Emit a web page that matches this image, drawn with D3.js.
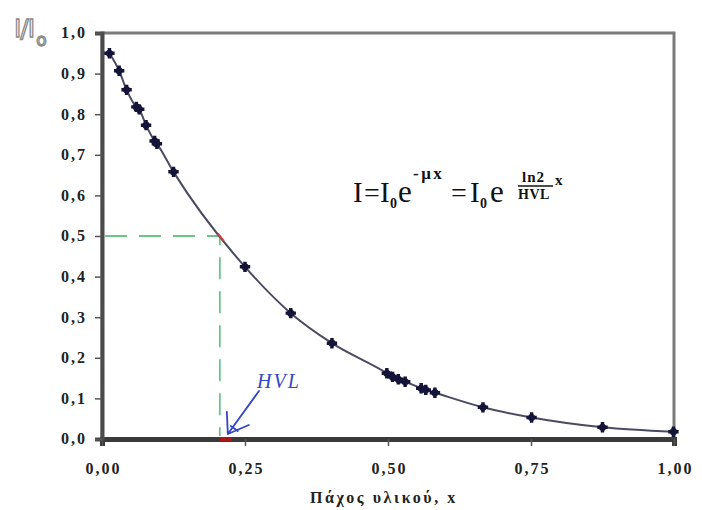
<!DOCTYPE html>
<html>
<head>
<meta charset="utf-8">
<script src="https://cdn.jsdelivr.net/npm/d3@7"></script>
<style>
  body { margin: 0; background: #fff; }
  svg { display: block; }
  .tick text { font-family: "Liberation Serif", "DejaVu Serif", serif; font-weight: bold; font-size: 16px; fill: #222; letter-spacing: 2px; }
</style>
</head>
<body>
<svg id="chart" width="702" height="510"></svg>
<script>
// thickness (x) and relative intensity I/I0
var thickness = [0.013, 0.030, 0.043, 0.060, 0.065, 0.077, 0.092, 0.096, 0.125,
                 0.250, 0.330, 0.402, 0.498, 0.508, 0.518, 0.530, 0.558, 0.566,
                 0.582, 0.666, 0.751, 0.875, 0.999];
var intensity = [0.950, 0.907, 0.860, 0.818, 0.812, 0.773, 0.734, 0.727, 0.658,
                 0.424, 0.310, 0.236, 0.162, 0.153, 0.147, 0.141, 0.125, 0.121,
                 0.114, 0.078, 0.053, 0.029, 0.018];
var xTicks = [0, 0.25, 0.5, 0.75, 1];
var yTicks = [0, 0.1, 0.2, 0.3, 0.4, 0.5, 0.6, 0.7, 0.8, 0.9, 1.0];
var hvl = 0.206;
var halfLevel = 0.5;

var svg = d3.select('#chart');
var margin = { left: 102, right: 28, top: 33, bottom: 71 };
var width = 702 - margin.left - margin.right,
    height = 510 - margin.top - margin.bottom;

var x = d3.scaleLinear().domain([0, 1]).range([margin.left, margin.left + width]);
var y = d3.scaleLinear().domain([0, 1]).range([margin.top + height, margin.top]);
var comma = function(fmt) {
    return function(d) { return d3.format(fmt)(d).replace('.', ','); };
};

// frame (top / right)
svg.append('rect')
    .attr('x', x(0)).attr('y', y(1))
    .attr('width', x(1) - x(0)).attr('height', y(0) - y(1))
    .attr('fill', 'none')
    .attr('stroke', '#7a7a7a')
    .attr('stroke-width', 3);

// axes
var gx = svg.append('g')
    .attr('transform', 'translate(0,' + y(0) + ')')
    .call(d3.axisBottom(x).tickValues(xTicks).tickFormat(comma('.2f')).tickSize(7).tickPadding(17));
gx.select('.domain').attr('stroke', '#3a3a3a').attr('stroke-width', 5);
gx.selectAll('.tick line').attr('stroke', '#555').attr('stroke-width', 1.5);
gx.selectAll('.tick text').attr('dx', '1px');

var gy = svg.append('g')
    .attr('transform', 'translate(' + x(0) + ',0)')
    .call(d3.axisLeft(y).tickValues(yTicks).tickFormat(comma('.1f')).tickSize(7).tickPadding(8));
gy.select('.domain').attr('stroke', '#4a4a4a').attr('stroke-width', 4);
gy.selectAll('.tick line').attr('stroke', '#555').attr('stroke-width', 1.5);
gy.selectAll('.tick text').attr('dy', '0.3em');

// green dashed guides for the half-value layer
svg.append('path')
    .attr('d', d3.line()([[x(0) + 3, y(halfLevel)], [x(hvl), y(halfLevel)], [x(hvl), y(0) - 3]]))
    .attr('fill', 'none')
    .attr('stroke', '#6cc487')
    .attr('stroke-width', 1.8)
    .attr('stroke-dasharray', '22,12');

// red mark on x axis at HVL
svg.append('line')
    .attr('x1', x(hvl)).attr('x2', x(hvl) + 12)
    .attr('y1', y(0)).attr('y2', y(0))
    .attr('stroke', '#a81818').attr('stroke-width', 4);

// fitted curve
var pts = thickness.map(function(t, i) { return [t, intensity[i]]; });
svg.append('path')
    .datum(pts)
    .attr('fill', 'none')
    .attr('stroke', '#4a4a62')
    .attr('stroke-width', 2)
    .attr('d', d3.line()
        .x(function(d) { return x(d[0]); })
        .y(function(d) { return y(d[1]); })
        .curve(d3.curveMonotoneX));

// small red tint where curve crosses 0.5
svg.append('line')
    .attr('x1', x(hvl) - 2).attr('y1', y(halfLevel + 0.006))
    .attr('x2', x(hvl) + 4).attr('y2', y(halfLevel - 0.012))
    .attr('stroke', '#d04040').attr('stroke-width', 2);

// markers
var star = d3.symbol().type(d3.symbolCross).size(60);
svg.selectAll('.pt').data(pts).enter()
    .append('g')
    .attr('class', 'pt')
    .attr('transform', function(d) { return 'translate(' + x(d[0]) + ',' + y(d[1]) + ')'; })
    .each(function() {
        var g = d3.select(this);
        g.append('path').attr('d', star()).attr('fill', '#141438');
        g.append('circle').attr('r', 3.6).attr('fill', '#141438');
    });

// y title I/I0
var yt = svg.append('text')
    .attr('x', 14).attr('y', 37)
    .attr('font-family', 'DejaVu Sans, sans-serif')
    .attr('font-size', 25)
    .attr('fill', 'none')
    .attr('stroke', '#8a8a8a')
    .attr('stroke-width', 1.3)
    .attr('letter-spacing', '-1px');
yt.append('tspan').text('I/I');
yt.append('tspan').attr('font-size', 17).attr('dy', 9).attr('dx', 2).text('o');

// x title
svg.append('text')
    .attr('x', 384).attr('y', 503)
    .attr('text-anchor', 'middle')
    .attr('font-family', 'Liberation Serif, DejaVu Serif, serif')
    .attr('font-weight', 'bold')
    .attr('font-size', 16)
    .attr('letter-spacing', '2.6px')
    .attr('fill', '#222')
    .text('Πάχος υλικού, x');

// formula
var f = svg.append('g')
    .attr('font-family', 'Liberation Serif, DejaVu Serif, serif')
    .attr('fill', '#111');
function put(txt, px, py, size, weight, ls) {
    f.append('text').attr('x', px).attr('y', py)
        .attr('font-size', size).attr('font-weight', weight || 'normal')
        .attr('letter-spacing', ls || 0).text(txt);
}
put('I', 353, 202, 29);
put('=', 364, 202, 28);
put('I', 380, 202, 29);
put('0', 390, 208, 14, 'bold');
put('e', 398, 202, 31);
put('-μx', 413, 179, 17, 'bold', '2.5px');
put('=', 451, 202, 28);
put('I', 470, 202, 29);
put('0', 480, 208, 14, 'bold');
put('e', 490, 202, 31);
put('ln2', 522, 182, 15, 'bold', '1px');
f.append('line').attr('x1', 518).attr('x2', 553).attr('y1', 186).attr('y2', 186)
    .attr('stroke', '#111').attr('stroke-width', 1.5);
put('HVL', 518, 199, 14, 'bold', '0.5px');
put('x', 555, 185, 15, 'bold');

// HVL annotation
svg.append('text')
    .attr('x', 257).attr('y', 388)
    .attr('font-family', 'Liberation Serif, DejaVu Serif, serif')
    .attr('font-style', 'italic')
    .attr('font-size', 20)
    .attr('letter-spacing', '2px')
    .attr('fill', '#3346c8')
    .text('HVL');
var ax = x(hvl) + 8, ay = y(0) - 5;
svg.append('path')
    .attr('d', 'M259,391 L' + ax + ',' + ay + ' M' + ax + ',' + ay + ' L' + (ax - 1) + ',' + (ay - 22) +
               ' M' + ax + ',' + ay + ' L' + (ax + 21) + ',' + (ay - 9) +
               ' M' + (ax + 3) + ',' + (ay - 8) + ' L' + (ax + 10) + ',' + (ay - 3))
    .attr('fill', 'none')
    .attr('stroke', '#3346c8')
    .attr('stroke-width', 1.8)
    .attr('stroke-linecap', 'round');
</script>
</body>
</html>
